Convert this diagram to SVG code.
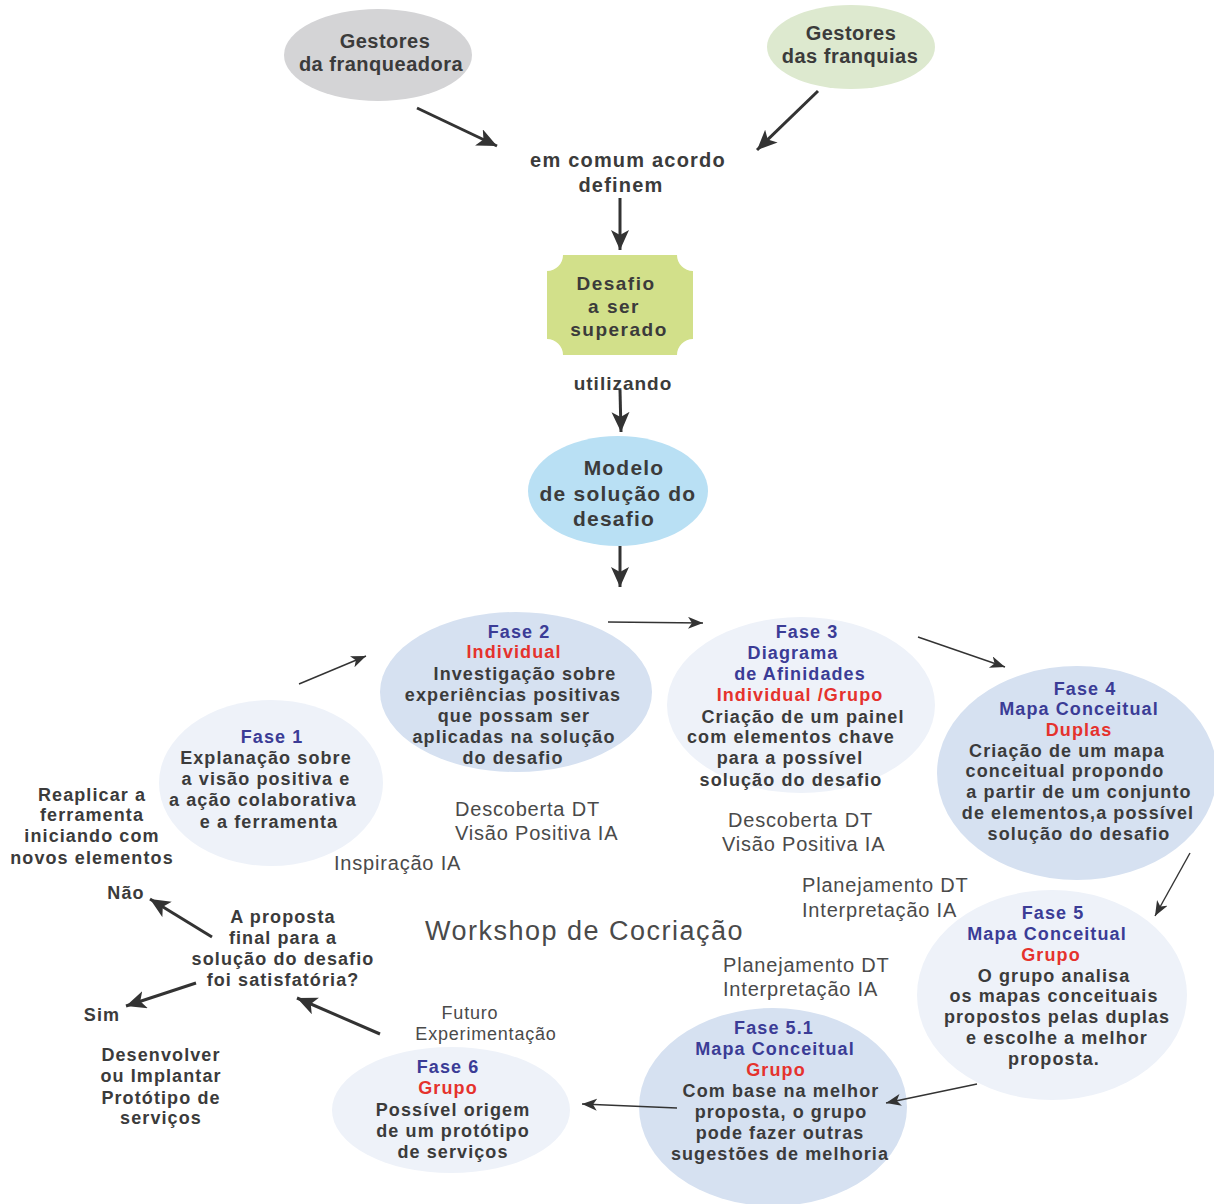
<svg xmlns="http://www.w3.org/2000/svg" width="1214" height="1204" viewBox="0 0 1214 1204">
<style>
text{font-family:"Liberation Sans",Arial,sans-serif}
.b{font-weight:bold;font-size:18px;letter-spacing:1.1px;fill:#3b3b3b;text-anchor:middle}
.bl{fill:#3b3c96}
.rd{fill:#e5322d}
.g{font-size:20px;letter-spacing:0.8px;fill:#4a4a4a}
.top{font-weight:bold;font-size:20px;letter-spacing:0.5px;fill:#3b3b3b;text-anchor:middle}
.cn{stroke:#333;fill:none}
.thick{stroke-width:3}
.thin{stroke-width:1.4}
</style>
<defs>
<marker id="ah" markerUnits="userSpaceOnUse" markerWidth="22" markerHeight="20" refX="20" refY="9" orient="auto">
<path d="M0,0 L20,9 L0,18 L5,9 Z" fill="#333"/>
</marker>
<marker id="as" markerUnits="userSpaceOnUse" markerWidth="16" markerHeight="14" refX="15" refY="6" orient="auto">
<path d="M0,0 L15,6 L0,12 L4,6 Z" fill="#333"/>
</marker>
</defs>
<rect width="1214" height="1204" fill="#ffffff"/>

<g id="franqueadora">
<ellipse cx="378" cy="55" rx="94" ry="46" fill="#d4d4d6"/>
<text class="top" x="385" y="48">Gestores</text>
<text class="top" x="381" y="71">da franqueadora</text>
</g>
<g id="franquias">
<ellipse cx="851" cy="47" rx="84" ry="42" fill="#dde9cf"/>
<text class="top" x="851" y="40">Gestores</text>
<text class="top" x="850" y="63">das franquias</text>
</g>
<g id="acordo">
<text class="top" x="628" y="167" style="letter-spacing:1.2px">em comum acordo</text>
<text class="top" x="621" y="192" style="letter-spacing:1.2px">definem</text>
</g>
<g id="desafio">
<path d="M563 255 L677 255 A16 16 0 0 0 693 271 L693 339 A16 16 0 0 0 677 355 L563 355 A16 16 0 0 0 547 339 L547 271 A16 16 0 0 0 563 255 Z" fill="#d2e08a"/>
<text class="top" x="616" y="290" style="font-size:19px;letter-spacing:1.5px">Desafio</text>
<text class="top" x="614" y="313" style="font-size:19px;letter-spacing:1.5px">a ser</text>
<text class="top" x="619" y="336" style="font-size:19px;letter-spacing:1.5px">superado</text>
</g>
<g id="utilizando">
<text class="top" x="623" y="390" style="font-size:19px;letter-spacing:1px">utilizando</text>
</g>
<g id="modelo">
<ellipse cx="618" cy="491" rx="90" ry="55" fill="#b9e0f4"/>
<text class="top" x="624" y="475" style="font-size:21px;letter-spacing:1.2px">Modelo</text>
<text class="top" x="618" y="501" style="font-size:21px;letter-spacing:1.2px">de solução do</text>
<text class="top" x="614" y="526" style="font-size:21px;letter-spacing:1.2px">desafio</text>
</g>

<g id="fase1">
<ellipse cx="271" cy="783" rx="112" ry="83" fill="#eef2f9"/>
<text class="b bl" x="272" y="743">Fase 1</text>
<text class="b" x="266" y="764">Explanação sobre</text>
<text class="b" x="266" y="785">a visão positiva e</text>
<text class="b" x="263" y="806">a ação colaborativa</text>
<text class="b" x="269" y="828">e a ferramenta</text>
</g>
<g id="fase2">
<ellipse cx="516" cy="692" rx="136" ry="80" fill="#d6e1f1"/>
<text class="b bl" x="519" y="638">Fase 2</text>
<text class="b rd" x="514" y="658">Individual</text>
<text class="b" x="525" y="680">Investigação sobre</text>
<text class="b" x="513" y="701">experiências positivas</text>
<text class="b" x="514" y="722">que possam ser</text>
<text class="b" x="514" y="743">aplicadas na solução</text>
<text class="b" x="513" y="764">do desafio</text>
</g>
<g id="fase3">
<ellipse cx="801" cy="705" rx="134" ry="88" fill="#eef2f9"/>
<text class="b bl" x="807" y="638">Fase 3</text>
<text class="b bl" x="793" y="659">Diagrama</text>
<text class="b bl" x="800" y="680">de Afinidades</text>
<text class="b rd" x="800" y="701">Individual /Grupo</text>
<text class="b" x="803" y="723">Criação de um painel</text>
<text class="b" x="791" y="743">com elementos chave</text>
<text class="b" x="790" y="764">para a possível</text>
<text class="b" x="791" y="786">solução do desafio</text>
</g>
<g id="fase4">
<ellipse cx="1077" cy="773" rx="140" ry="107" fill="#d6e1f1"/>
<text class="b bl" x="1085" y="695">Fase 4</text>
<text class="b bl" x="1079" y="715">Mapa Conceitual</text>
<text class="b rd" x="1079" y="736">Duplas</text>
<text class="b" x="1067" y="757">Criação de um mapa</text>
<text class="b" x="1065" y="777">conceitual propondo</text>
<text class="b" x="1079" y="798">a partir de um conjunto</text>
<text class="b" x="1078" y="819">de elementos,a possível</text>
<text class="b" x="1079" y="840">solução do desafio</text>
</g>
<g id="fase5">
<ellipse cx="1052" cy="995" rx="135" ry="105" fill="#eef2f9"/>
<text class="b bl" x="1053" y="919">Fase 5</text>
<text class="b bl" x="1047" y="940">Mapa Conceitual</text>
<text class="b rd" x="1051" y="961">Grupo</text>
<text class="b" x="1054" y="982">O grupo analisa</text>
<text class="b" x="1054" y="1002">os mapas conceituais</text>
<text class="b" x="1057" y="1023">propostos pelas duplas</text>
<text class="b" x="1057" y="1044">e escolhe a melhor</text>
<text class="b" x="1054" y="1065">proposta.</text>
</g>
<g id="fase51">
<ellipse cx="773" cy="1107" rx="134" ry="99" fill="#d6e1f1"/>
<text class="b bl" x="774" y="1034">Fase 5.1</text>
<text class="b bl" x="775" y="1055">Mapa Conceitual</text>
<text class="b rd" x="776" y="1076">Grupo</text>
<text class="b" x="781" y="1097">Com base na melhor</text>
<text class="b" x="781" y="1118">proposta, o grupo</text>
<text class="b" x="780" y="1139">pode fazer outras</text>
<text class="b" x="780" y="1160">sugestões de melhoria</text>
</g>
<g id="fase6">
<ellipse cx="451" cy="1110" rx="119" ry="63" fill="#eef2f9"/>
<text class="b bl" x="448" y="1073">Fase 6</text>
<text class="b rd" x="448" y="1094">Grupo</text>
<text class="b" x="453" y="1116">Possível origem</text>
<text class="b" x="453" y="1137">de um protótipo</text>
<text class="b" x="453" y="1158">de serviços</text>
</g>

<g id="labels">
<text class="g" x="455" y="816">Descoberta DT</text>
<text class="g" x="455" y="840">Visão Positiva IA</text>
<text class="g" x="334" y="870">Inspiração IA</text>
<text class="g" x="728" y="827">Descoberta DT</text>
<text class="g" x="722" y="851">Visão Positiva IA</text>
<text class="g" x="802" y="892">Planejamento DT</text>
<text class="g" x="802" y="917">Interpretação IA</text>
<text class="g" x="425" y="940" style="font-size:27px;letter-spacing:1.5px">Workshop de Cocriação</text>
<text class="g" x="723" y="972">Planejamento DT</text>
<text class="g" x="723" y="996">Interpretação IA</text>
<text class="g" x="470" y="1019" style="text-anchor:middle;font-size:18px">Futuro</text>
<text class="g" x="486" y="1040" style="text-anchor:middle;font-size:18px">Experimentação</text>
</g>
<g id="reaplicar">
<text class="b" x="92" y="801">Reaplicar a</text>
<text class="b" x="92" y="821">ferramenta</text>
<text class="b" x="92" y="842">iniciando com</text>
<text class="b" x="92" y="864">novos elementos</text>
</g>
<g id="nao"><text class="b" x="126" y="899">Não</text></g>
<g id="pergunta">
<text class="b" x="283" y="923">A proposta</text>
<text class="b" x="283" y="944">final para a</text>
<text class="b" x="283" y="965">solução do desafio</text>
<text class="b" x="283" y="986">foi satisfatória?</text>
</g>
<g id="sim"><text class="b" x="102" y="1021">Sim</text></g>
<g id="desenvolver">
<text class="b" x="161" y="1061">Desenvolver</text>
<text class="b" x="161" y="1082">ou Implantar</text>
<text class="b" x="161" y="1104">Protótipo de</text>
<text class="b" x="161" y="1124">serviços</text>
</g>

<g id="connectors">
<line class="cn thick" x1="417" y1="108" x2="497" y2="146" marker-end="url(#ah)"/>
<line class="cn thick" x1="818" y1="91" x2="757" y2="150" marker-end="url(#ah)"/>
<line class="cn thick" x1="620" y1="198" x2="620" y2="250" marker-end="url(#ah)"/>
<line class="cn thick" x1="620" y1="390" x2="621" y2="432" marker-end="url(#ah)"/>
<line class="cn thick" x1="620" y1="546" x2="620" y2="587" marker-end="url(#ah)"/>
<line class="cn thin" x1="299" y1="684" x2="366" y2="656" marker-end="url(#as)"/>
<line class="cn thin" x1="608" y1="622" x2="703" y2="623" marker-end="url(#as)"/>
<line class="cn thin" x1="918" y1="637" x2="1005" y2="667" marker-end="url(#as)"/>
<line class="cn thin" x1="1190" y1="853" x2="1155" y2="916" marker-end="url(#as)"/>
<line class="cn thin" x1="977" y1="1084" x2="886" y2="1103" marker-end="url(#as)"/>
<line class="cn thin" x1="677" y1="1108" x2="582" y2="1104" marker-end="url(#as)"/>
<line class="cn thick" x1="380" y1="1034" x2="297" y2="998" marker-end="url(#ah)"/>
<line class="cn thick" x1="212" y1="937" x2="150" y2="899" marker-end="url(#ah)"/>
<line class="cn thick" x1="196" y1="983" x2="126" y2="1006" marker-end="url(#ah)"/>
</g>
</svg>
